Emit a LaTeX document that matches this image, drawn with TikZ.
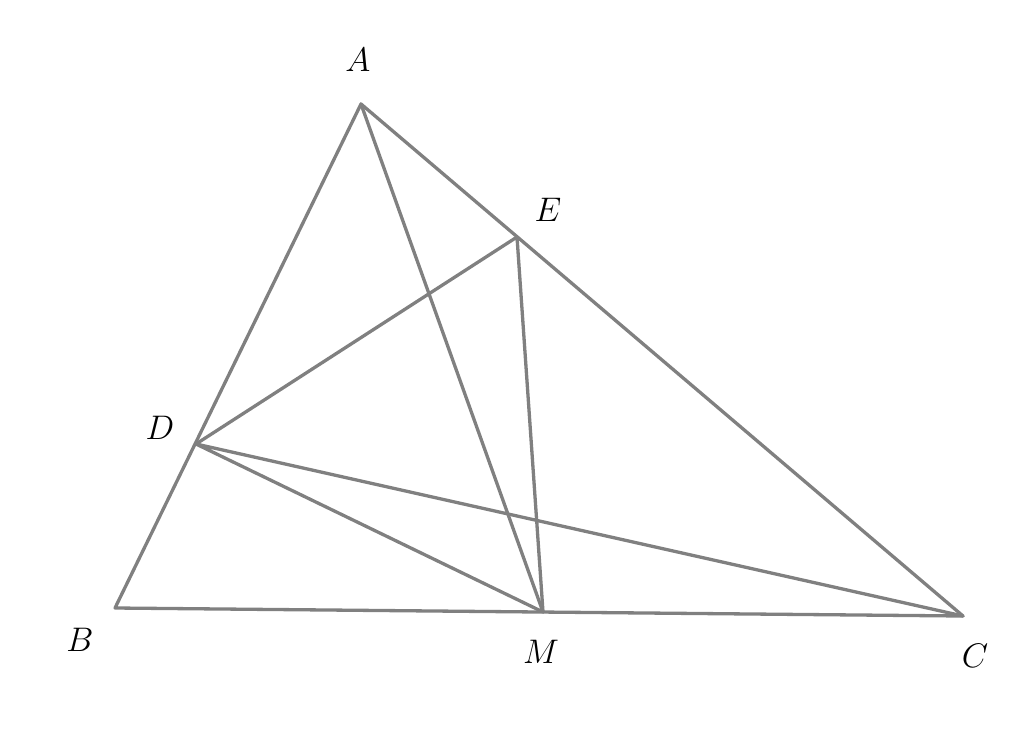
\documentclass[tikz,border=0pt]{standalone}
\newcommand{\lab}[1]{\scalebox{1.37}{\Huge$#1$}}
\begin{document}
\begin{tikzpicture}[x=1pt,y=-1pt,
  seg/.style={draw=black!50,line width=3.3pt,line cap=round,line join=round},
  lbl/.style={inner sep=0pt}]
\useasboundingbox (0,0) rectangle (1024,733);
\coordinate (A) at (361,104);
\coordinate (B) at (115,608);
\coordinate (C) at (963,616);
\coordinate (M) at (543,612);
\coordinate (D) at (196,444);
\coordinate (E) at (517,237);
\draw[seg] (A) -- (B) -- (C) -- cycle;
\draw[seg] (A) -- (M);
\draw[seg] (D) -- (E) -- (M) -- (D) -- (C);
\node[lbl] (lA) at (358,60) {\lab{A}};
\node[lbl] (lE) at (548,210) {\lab{E}};
\node[lbl] (lD) at (160,428) {\lab{D}};
\node[lbl] (lB) at (80,640) {\lab{B}};
\node[lbl] (lM) at (541,652) {\lab{M}};
\node[lbl] (lC) at (975,656) {\lab{C}};
\end{tikzpicture}
\end{document}
